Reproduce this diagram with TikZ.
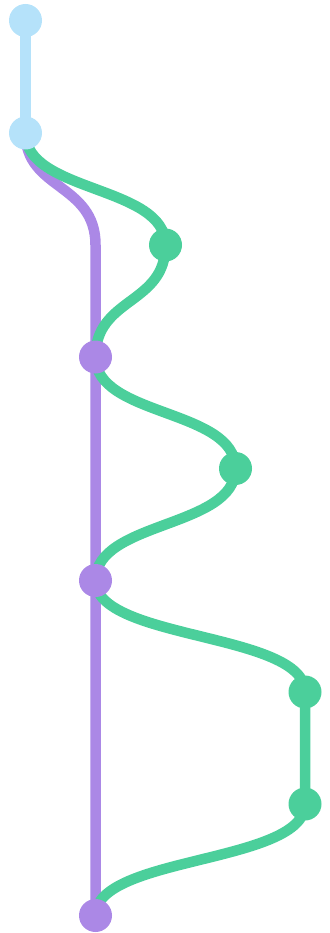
\documentclass[tikz,border=0pt]{standalone}
\usetikzlibrary{backgrounds}
\definecolor{lineblue}{HTML}{B5E2FA}
\definecolor{linepurple}{HTML}{AB88E6}
\definecolor{linegreen}{HTML}{4BCF9B}
\begin{document}
\begin{tikzpicture}[x=1pt,y=-1pt,
  dot/.style={circle,inner sep=0pt,minimum size=33pt},
  bdot/.style={dot,fill=lineblue},
  pdot/.style={dot,fill=linepurple},
  gdot/.style={dot,fill=linegreen},
  lane/.style={line width=10.5pt}]
  \useasboundingbox (0,0) rectangle (329,933);
  % commits
  \node[bdot] (b1) at (25.5,20.5) {};
  \node[bdot] (b2) at (25.5,133) {};
  \node[gdot] (g1) at (165.5,245) {};
  \node[pdot] (p1) at (95.5,357) {};
  \node[gdot] (g2) at (235.5,468.5) {};
  \node[pdot] (p2) at (95.5,580.5) {};
  \node[gdot] (g3) at (305,692) {};
  \node[gdot] (g4) at (305,804) {};
  \node[pdot] (p3) at (95.5,915.5) {};
  \coordinate (bend) at (95.5,245);
  % branches
  \begin{scope}[on background layer]
    \draw[lane,lineblue] (b1.center) -- (b2.center);
    \draw[lane,linepurple] (b2.center) .. controls +(0,57) and +(0,-62) .. (bend) -- (p3.center);
    \draw[lane,linegreen] (b2.center) .. controls +(0,60) and +(0,-60) .. (g1.center)
      .. controls +(0,60) and +(0,-60) .. (p1.center)
      .. controls +(0,60) and +(0,-60) .. (g2.center)
      .. controls +(0,60) and +(0,-60) .. (p2.center)
      .. controls +(0,60) and +(0,-60) .. (g3.center) -- (g4.center)
      .. controls +(0,60) and +(0,-60) .. (p3.center);
  \end{scope}
\end{tikzpicture}
\end{document}
